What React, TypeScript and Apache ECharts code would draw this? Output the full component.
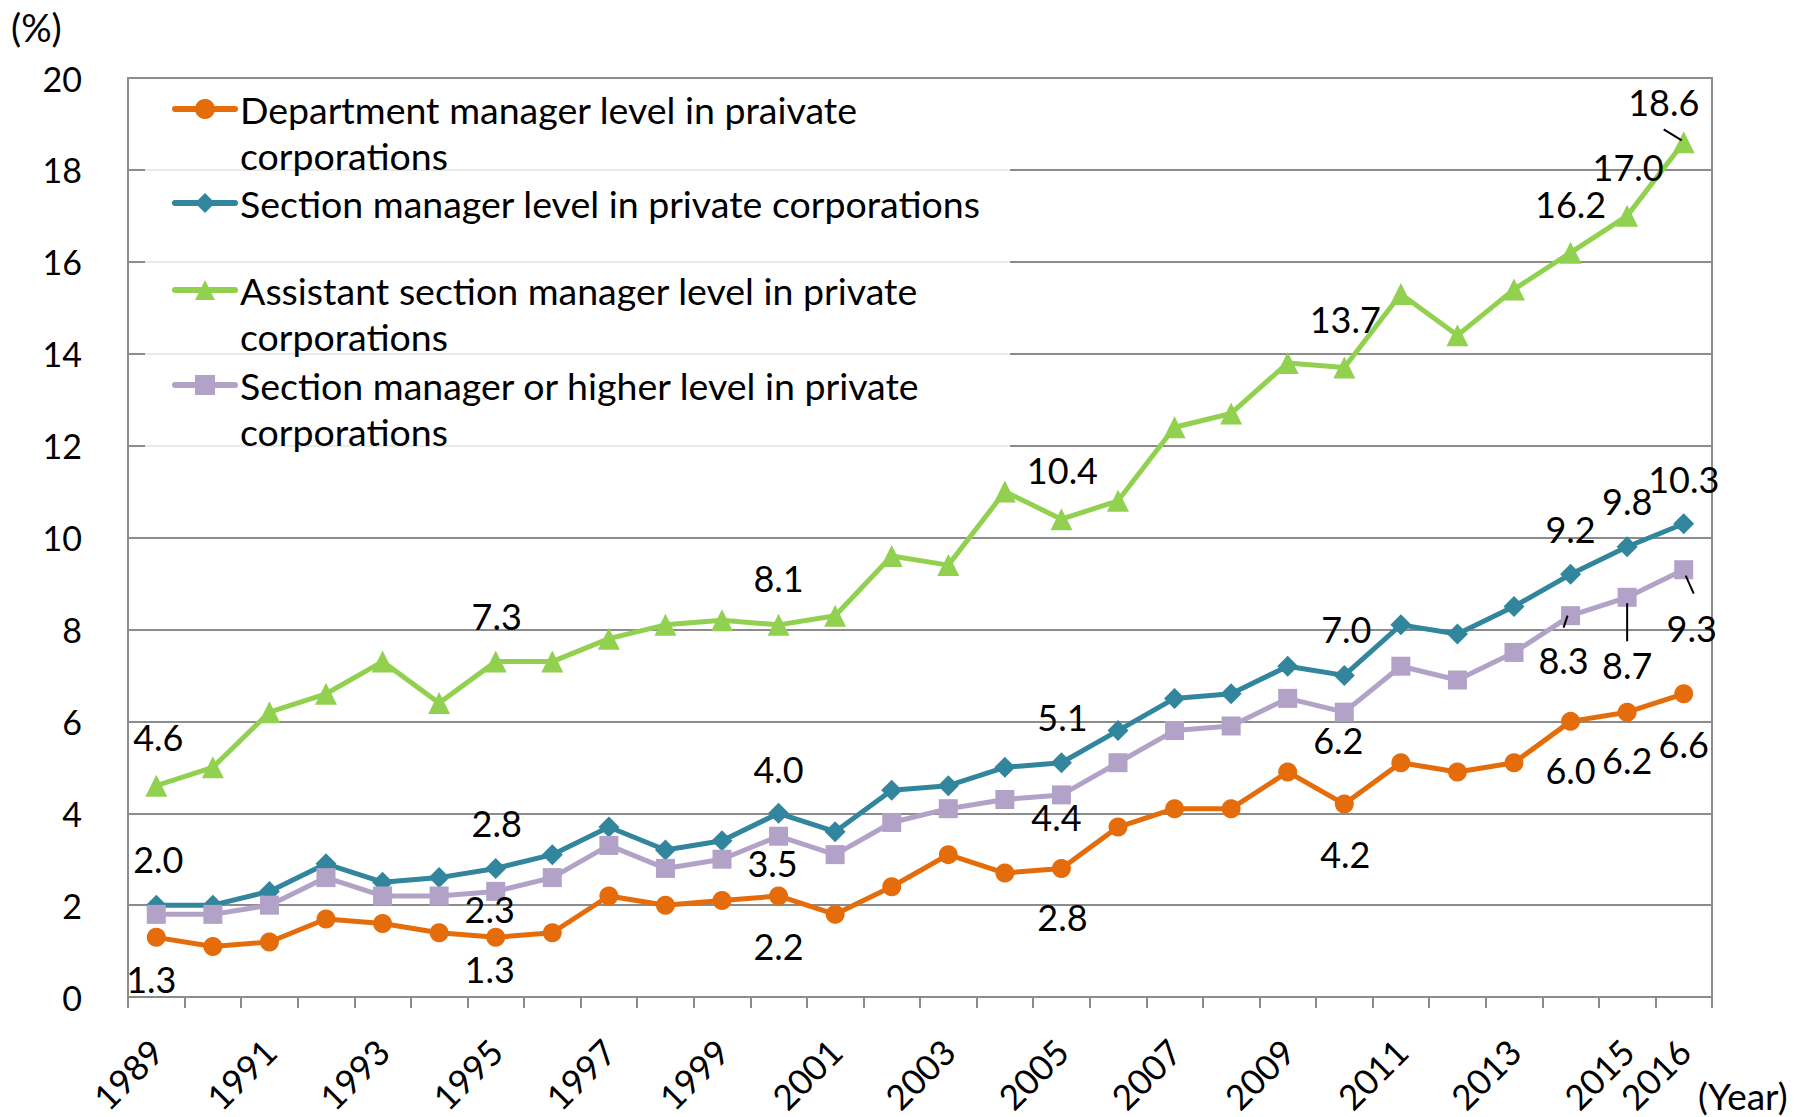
import React, { useEffect, useRef } from "react";
import * as echarts from "echarts";

const years = [
  "1989", "1990", "1991", "1992", "1993", "1994", "1995", "1996", "1997", "1998",
  "1999", "2000", "2001", "2002", "2003", "2004", "2005", "2006", "2007", "2008",
  "2009", "2010", "2011", "2012", "2013", "2014", "2015", "2016",
];

const seriesNames = [
  "Department manager level in praivate corporations",
  "Section manager level in private corporations",
  "Assistant section manager level in private corporations",
  "Section manager or higher level in private corporations",
];

const legendLines = [
  ["Department manager level in praivate", "corporations"],
  ["Section manager level in private corporations"],
  ["Assistant section manager level in private", "corporations"],
  ["Section manager or higher level in private", "corporations"],
];

const deptValues = [1.3, 1.1, 1.2, 1.7, 1.6, 1.4, 1.3, 1.4, 2.2, 2.0, 2.1, 2.2, 1.8, 2.4, 3.1, 2.7, 2.8, 3.7, 4.1, 4.1, 4.9, 4.2, 5.1, 4.9, 5.1, 6.0, 6.2, 6.6];
const sectionValues = [2.0, 2.0, 2.3, 2.9, 2.5, 2.6, 2.8, 3.1, 3.7, 3.2, 3.4, 4.0, 3.6, 4.5, 4.6, 5.0, 5.1, 5.8, 6.5, 6.6, 7.2, 7.0, 8.1, 7.9, 8.5, 9.2, 9.8, 10.3];
const assistantValues = [4.6, 5.0, 6.2, 6.6, 7.3, 6.4, 7.3, 7.3, 7.8, 8.1, 8.2, 8.1, 8.3, 9.6, 9.4, 11.0, 10.4, 10.8, 12.4, 12.7, 13.8, 13.7, 15.3, 14.4, 15.4, 16.2, 17.0, 18.6];
const higherValues = [1.8, 1.8, 2.0, 2.6, 2.2, 2.2, 2.3, 2.6, 3.3, 2.8, 3.0, 3.5, 3.1, 3.8, 4.1, 4.3, 4.4, 5.1, 5.8, 5.9, 6.5, 6.2, 7.2, 6.9, 7.5, 8.3, 8.7, 9.3];

const yTicks = { min: 0, max: 20, interval: 2 };

// label placement: [index, dx, dy] in px relative to the point
const deptLabelPos = [[0, -5, 42], [6, -6, 32], [11, 0, 50], [16, 1, 49], [21, 1, 50], [25, 0, 49], [26, 0, 48], [27, 0, 50]];
const sectionLabelPos = [[0, 2, -46], [6, 1, -45], [11, 0, -44], [16, 1, -46], [21, 2, -46], [25, 0, -45], [26, 0, -46], [27, 0, -45]];
const assistantLabelPos = [[0, 2, -49], [6, 1, -46], [11, 0, -47], [16, 1, -49], [21, 1, -49], [25, 0, -49], [26, 1, -49], [27, -20, -40]];
const higherLabelPos = [[6, -6, 18], [11, -6, 27], [16, -5, 22], [21, -6, 28], [25, -7, 44], [26, 0, 68], [27, 8, 58]];

// leader lines: [seriesIndex, pointIndex, x1, y1, x2, y2] relative to the point
const leaderLines = [
  [2, 27, -2, -2, -20, -13],
  [3, 25, -3, 0, -7, 12],
  [3, 26, 0, 6, 0, 44],
  [3, 27, 2, 6, 10, 24],
];

const colors = ["#E46C0A", "#31859C", "#92D050", "#B3A2C7"];
const FONT = "Lato";

function buildData(values: number[], pos: number[][]) {
  return values.map((v, i) => {
    const p = pos.find((x) => x[0] === i);
    if (!p) return v;
    return {
      value: v,
      label: {
        show: true,
        position: "inside",
        offset: [p[1], p[2]],
        formatter: v.toFixed(1),
        color: "#000",
        fontSize: 36,
        fontFamily: FONT,
      },
    };
  });
}

export default function App() {
  const ref = useRef<HTMLDivElement>(null);

  useEffect(() => {
    if (!ref.current) return;
    const chart = echarts.init(ref.current, null, { renderer: "svg" });
    const allValues = [deptValues, sectionValues, assistantValues, higherValues];
    const allPos = [deptLabelPos, sectionLabelPos, assistantLabelPos, higherLabelPos];
    const symbols = ["circle", "diamond", "triangle", "rect"];
    const symbolSizes = [19, 21, 22, 19];

    const LH = 46;
    const iconCenters = [109, 203, 290, 385];

    const baseGraphics: any[] = [
      {
        id: "legendBack",
        type: "rect",
        z: 1,
        shape: { x: 145, y: 82, width: 865, height: 378 },
        style: { fill: "rgba(255,255,255,0.82)" },
        silent: true,
      },
      {
        id: "ylabel",
        type: "text",
        left: 11,
        top: 8,
        style: { text: "(%)", fontSize: 38, fontFamily: FONT, fill: "#000" },
      },
      {
        id: "xlabel",
        type: "text",
        left: 1698,
        top: 1077,
        style: { text: "(Year)", fontSize: 37, fontFamily: FONT, fill: "#000" },
      },
    ];

    chart.setOption({
      animation: false,
      textStyle: { fontFamily: FONT },
      grid: {
        left: 128,
        right: 82,
        top: 78,
        bottom: 116,
        show: true,
        borderColor: "#8c8c8c",
        borderWidth: 2,
      },
      legend: seriesNames.map((name, i) => {
        const lines = legendLines[i];
        // a leading empty line keeps the icon on the first text line
        const text = lines.length > 1 ? "\n" + lines.join("\n") : lines[0];
        const blockH = (lines.length > 1 ? 3 : 1) * LH;
        return {
          data: [name],
          orient: "vertical",
          left: 172,
          top: iconCenters[i] - blockH / 2,
          padding: 0,
          itemWidth: 60,
          itemHeight: 25,
          selectedMode: false,
          formatter: () => text,
          textStyle: {
            fontSize: 37.5,
            fontFamily: FONT,
            color: "#000",
            lineHeight: LH,
          },
          lineStyle: { width: 6, cap: "round" },
        };
      }),
      xAxis: {
        type: "category",
        data: years,
        boundaryGap: true,
        axisLine: { lineStyle: { color: "#8c8c8c", width: 2 } },
        axisTick: {
          show: true,
          interval: 0,
          length: 11,
          lineStyle: { color: "#8c8c8c", width: 2 },
        },
        axisLabel: {
          interval: (i: number) => i % 2 === 0 || i === years.length - 1,
          rotate: 45,
          fontSize: 35,
          fontFamily: FONT,
          color: "#000",
          margin: 48,
        },
      },
      yAxis: {
        type: "value",
        min: yTicks.min,
        max: yTicks.max,
        interval: yTicks.interval,
        axisLine: { show: true, lineStyle: { color: "#8c8c8c", width: 2 } },
        axisTick: { show: false },
        splitLine: { lineStyle: { color: "#8c8c8c", width: 2 } },
        axisLabel: {
          fontSize: 34,
          fontFamily: FONT,
          color: "#000",
          margin: 46,
        },
      },
      series: seriesNames.map((name, i) => ({
        name,
        type: "line",
        data: buildData(allValues[i], allPos[i]),
        symbol: symbols[i],
        symbolSize: symbolSizes[i],
        showAllSymbol: true,
        color: colors[i],
        lineStyle: { width: 5, color: colors[i] },
        itemStyle: { color: colors[i] },
        z: 2 + i,
      })),
      graphic: baseGraphics,
    });

    const leaderGraphics = leaderLines.map((l, k) => {
      const [si, pi, x1, y1, x2, y2] = l;
      const p = chart.convertToPixel({ xAxisIndex: 0, yAxisIndex: 0 }, [pi, allValues[si][pi]]) as number[];
      return {
        id: "leader" + k,
        type: "line",
        z: 10,
        shape: { x1: p[0] + x1, y1: p[1] + y1, x2: p[0] + x2, y2: p[1] + y2 },
        style: { stroke: "#000", lineWidth: 2 },
        silent: true,
      };
    });

    chart.setOption({ graphic: [...baseGraphics, ...leaderGraphics] });

    return () => chart.dispose();
  }, []);

  return (
    <div
      ref={ref}
      style={{ position: "fixed", left: 0, top: 0, width: 1794, height: 1117, background: "#fff" }}
    />
  );
}
